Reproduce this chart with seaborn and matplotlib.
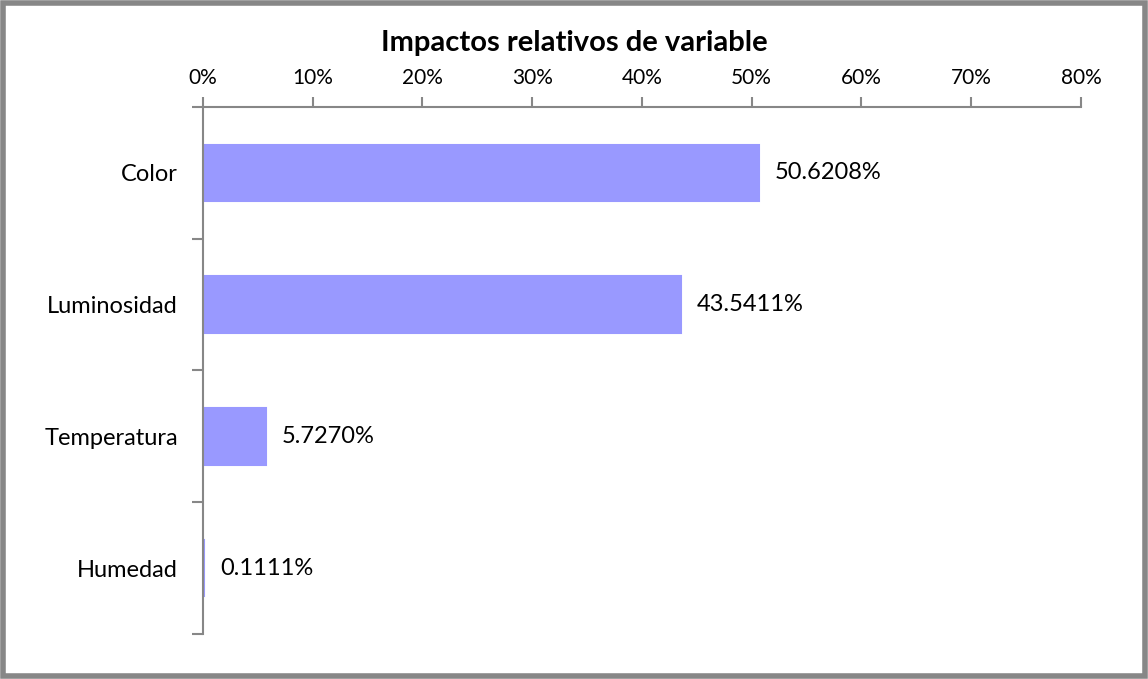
import matplotlib
matplotlib.use("Agg")
import matplotlib.pyplot as plt
import matplotlib.ticker as mticker
from matplotlib.patches import Rectangle
import seaborn as sns
import pandas as pd
import numpy as np

variables = ["Color", "Luminosidad", "Temperatura", "Humedad"]
impactos = [50.6208, 43.5411, 5.7270, 0.1111]
x_ticks = [0, 10, 20, 30, 40, 50, 60, 70, 80]

df = pd.DataFrame({"variable": variables, "impacto": impactos})

sns.set_style("white")
plt.rcParams["font.family"] = ["Lato", "DejaVu Sans"]
plt.rcParams["text.color"] = "black"
plt.rcParams["xtick.labelcolor"] = "black"
plt.rcParams["ytick.labelcolor"] = "black"

gray = "#878787"
fig = plt.figure(figsize=(11.48, 6.79), dpi=100)
ax = fig.add_axes([0.1768, 0.0663, 0.7648, 0.7761])

sns.barplot(data=df, x="impacto", y="variable", orient="h", color="#9999FF",
            saturation=1, width=0.43, edgecolor="#9999FF", linewidth=1.5, ax=ax)

ax.set_xlim(0, 80)
ax.set_ylim(len(variables) - 0.5, -0.5)
ax.set_xticks(x_ticks)
ax.xaxis.set_major_formatter(mticker.FuncFormatter(lambda v, p: f"{v:.0f}%"))
ax.xaxis.tick_top()
ax.tick_params(axis="x", direction="out", length=7, width=1.5, color=gray,
               labelsize=15, pad=7, labelcolor="black")

ax.set_yticks(range(len(variables)))
ax.set_yticklabels(variables)
ax.set_yticks(np.arange(-0.5, len(variables), 1), minor=True)
ax.tick_params(axis="y", which="major", left=True, length=0, labelsize=17, pad=18,
               labelcolor="black")
ax.tick_params(axis="y", which="minor", left=True, direction="out", length=8,
               width=1.5, color=gray)

for s in ["right", "bottom"]:
    ax.spines[s].set_visible(False)
for s in ["top", "left"]:
    ax.spines[s].set_color(gray)
    ax.spines[s].set_linewidth(1.5)

ax.set_xlabel("")
ax.set_ylabel("")

for i, v in enumerate(impactos):
    ax.text(v + 1.45, i, f"{v:.4f}%", va="center", ha="left", fontsize=17, color="black")

fig.text(0.5, 0.937, "Impactos relativos de variable", ha="center", va="center",
         fontsize=21, fontweight="bold", color="black")

fig.patches.append(Rectangle((0.003, 0.004), 0.994, 0.992, transform=fig.transFigure,
                             fill=False, edgecolor=gray, linewidth=4))

fig.savefig("out.png", dpi=100)
